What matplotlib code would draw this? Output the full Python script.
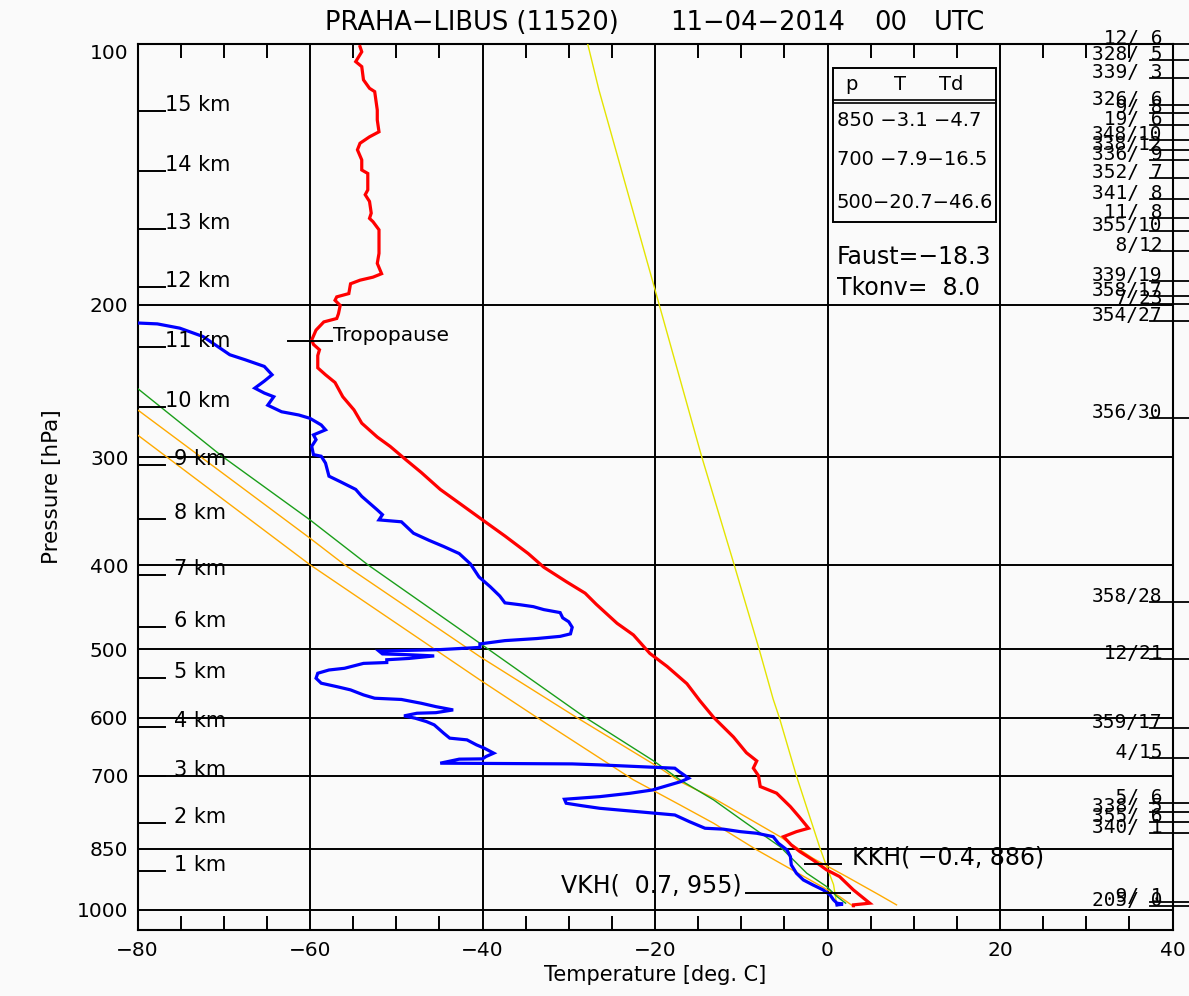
import matplotlib
matplotlib.use("Agg")
import matplotlib.pyplot as plt
from matplotlib.ticker import NullLocator
from matplotlib.lines import Line2D
from matplotlib.patches import Rectangle

# ---------------- data ----------------
station_title = "PRAHA\u2212LIBUS (11520)"
date_text = "11\u221204\u22122014"
hour_text = "00"
utc_text = "UTC"

x_ticks = [-80, -60, -40, -20, 0, 20, 40]
x_ticklabels = ["\u221280", "\u221260", "\u221240", "\u221220", "0", "20", "40"]
p_ticks = [100, 200, 300, 400, 500, 600, 700, 850, 1000]
p_ticklabels = ["100", "200", "300", "400", "500", "600", "700", "850", "1000"]

# temperature profile (hPa, deg C)
temp_p = [100.7, 102.1, 104.8, 106.2, 110.0, 112.5, 113.5, 119.2, 122.4, 126.3,
          128.0, 130.2, 132.5, 136.1, 139.8, 141.1, 147.4, 149.3, 152.0, 156.8,
          159.0, 160.4, 163.9, 174.5, 179.2, 184.2, 185.9, 187.4, 189.2, 194.2,
          195.9, 197.7, 200.4, 204.9, 207.5, 209.4, 214.0, 219.7, 222.3, 225.5,
          229.0, 236.6, 241.0, 246.0, 255.5, 264.6, 274.1, 284.4, 291.6, 302.0,
          312.5, 326.9, 339.0, 354.5, 370.0, 387.7, 402.0, 417.7, 430.8, 443.8,
          466.7, 481.4, 505.6, 523.4, 548.0, 573.4, 599.4, 631.5, 658.5, 673.0,
          686.0, 700.0, 720.4, 733.2, 760.0, 780.5, 804.9, 812.2, 823.1, 841.4,
          856.5, 875.6, 899.2, 915.3, 948.3, 982.4, 986.8, 989.0]
temp_T = [-54.2, -54.0, -54.7, -54.0, -53.8, -53.1, -52.5, -52.2, -52.2, -52.0,
          -53.1, -54.2, -54.5, -54.0, -54.0, -53.3, -53.3, -53.6, -53.1, -52.9,
          -53.1, -52.7, -52.0, -52.0, -52.2, -51.7, -52.7, -54.2, -55.3, -55.5,
          -56.9, -57.1, -56.5, -56.7, -56.9, -58.4, -59.3, -59.8, -59.6, -58.9,
          -59.1, -59.1, -58.2, -57.1, -56.2, -54.9, -54.0, -52.2, -50.7, -48.9,
          -47.1, -44.9, -42.7, -40.0, -37.4, -34.7, -32.9, -30.3, -28.1, -26.8,
          -24.4, -22.5, -20.6, -18.6, -16.3, -14.8, -13.2, -10.9, -9.4, -8.2,
          -8.6, -8.0, -7.8, -5.9, -4.3, -3.3, -2.2, -3.6, -5.1, -4.2,
          -3.2, -1.7, -0.1, 1.4, 3.0, 4.9, 3.0, 3.0]

# dew point profile (hPa, deg C)
dew_p = [209.0, 210.0, 210.5, 212.9, 217.7, 223.6, 228.5, 231.6, 235.7, 241.0,
         245.1, 249.7, 253.0, 255.5, 261.3, 265.9, 268.2, 270.6, 275.4, 279.0,
         282.8, 286.4, 291.5, 298.0, 299.3, 304.8, 315.6, 320.2, 326.9, 333.0,
         345.2, 349.6, 354.5, 356.3, 367.3, 374.3, 380.5, 387.7, 398.5, 412.6,
         423.5, 434.0, 442.0, 444.3, 446.5, 450.0, 453.6, 460.0, 464.8, 471.7,
         480.0, 483.2, 486.0, 488.7, 493.0, 497.6, 500.5, 502.5, 506.3, 507.4,
         509.0, 512.4, 514.2, 518.0, 519.2, 526.0, 528.4, 533.0, 540.1, 547.3,
         552.3, 557.1, 564.6, 569.6, 571.5, 577.3, 582.5, 587.6, 591.9, 592.8,
         597.0, 600.7, 606.1, 611.4, 625.1, 633.4, 636.3, 644.8, 650.5, 659.2,
         665.2, 669.3, 669.8, 677.0, 678.3, 680.1, 683.2, 686.1, 692.3, 704.6,
         711.0, 727.0, 733.4, 740.0, 745.2, 753.1, 758.0, 763.3, 770.2, 777.0,
         791.0, 804.9, 806.8, 812.2, 815.7, 823.1, 837.6, 852.6, 867.9, 887.3,
         907.2, 923.5, 935.7, 948.3, 961.1, 973.8, 982.4, 985.0, 987.0]
dew_T = [-82.0, -80.0, -77.7, -75.1, -72.4, -70.7, -69.3, -67.5, -65.3, -64.4,
         -65.3, -66.4, -65.3, -64.2, -64.9, -63.3, -61.3, -60.0, -58.7, -58.2,
         -59.6, -59.3, -59.8, -59.6, -58.7, -58.2, -57.8, -56.5, -54.7, -54.0,
         -52.2, -51.6, -52.0, -49.4, -48.0, -46.2, -44.5, -42.7, -41.4, -40.4,
         -39.1, -38.0, -37.4, -35.6, -34.1, -32.9, -31.0, -30.7, -30.0, -29.6,
         -29.8, -31.0, -33.7, -37.4, -40.3, -40.3, -44.9, -52.0, -51.6, -48.5,
         -45.6, -48.5, -51.1, -51.1, -53.8, -56.0, -57.8, -59.1, -59.3, -58.7,
         -56.9, -55.3, -53.8, -52.5, -49.4, -47.1, -45.4, -43.4, -45.4, -47.6,
         -49.1, -47.8, -46.5, -45.6, -44.5, -43.8, -41.8, -40.7, -39.8, -38.7,
         -39.6, -40.0, -42.7, -44.9, -29.6, -26.4, -22.0, -17.7, -17.2, -16.1,
         -17.0, -20.3, -22.9, -26.4, -30.5, -30.3, -28.5, -26.4, -22.0, -17.7,
         -16.0, -14.2, -12.1, -10.1, -8.2, -6.3, -5.7, -4.7, -4.3, -4.2,
         -3.6, -2.8, -1.7, -0.5, 0.3, 0.7, 1.1, 1.8, 1.1]

# green curve
green_p = [249.9, 299.3, 354.5, 399.4, 490.6, 597.6, 672.5, 707.7, 746.5, 794.3,
           845.3, 907.2, 940.0, 965.2, 982.4]
green_T = [-80.0, -70.2, -60.0, -53.3, -40.5, -28.3, -20.2, -17.1, -13.2, -9.4,
           -5.5, -2.4, -0.1, 1.1, 2.1]

# orange curves
orange1_p = [264.5, 372.2, 399.4, 510.0, 599.4, 686.1, 711.0, 743.2, 823.1, 871.7,
             915.3, 961.1, 986.8]
orange1_T = [-80.0, -60.0, -56.0, -40.3, -29.1, -19.4, -17.1, -13.2, -5.5, -1.7,
             2.2, 6.0, 8.0]
orange2_p = [282.8, 399.4, 542.5, 599.4, 707.7, 756.5, 794.3, 852.6, 927.5, 965.2, 990.7]
orange2_T = [-80.0, -60.0, -40.3, -33.7, -22.5, -17.1, -13.2, -8.2, -1.7, 1.4, 3.0]

# yellow curve
yellow_p = [100.0, 113.0, 190.6, 299.3, 394.0, 501.0, 571.0, 599.0, 700.4, 847.0,
            891.0, 935.0, 990.0]
yellow_T = [-27.8, -26.5, -20.1, -14.6, -11.0, -7.9, -6.3, -5.6, -3.6, -0.9,
            -0.1, 0.7, 1.1]

# height marks
km_heights = [1, 2, 3, 4, 5, 6, 7, 8, 9, 10, 11, 12, 13, 14, 15]
km_pressures = [901.6, 794.0, 700.5, 615.2, 539.1, 471.7, 410.5, 353.6, 306.3,
                262.8, 223.6, 190.7, 163.4, 140.2, 119.4]

# wind labels
wind_p = [100.0, 104.3, 109.5, 117.6, 120.2, 124.0, 129.1, 132.5, 136.1, 142.8,
          151.0, 158.8, 164.4, 173.4, 187.8, 195.4, 199.6, 208.8, 270.3, 440.6,
          513.5, 616.9, 668.0, 752.2, 770.5, 791.3, 815.0, 979.0, 989.5]
wind_dir = [12, 328, 339, 326, 9, 19, 348, 338, 336, 352,
            341, 11, 355, 8, 339, 358, 7, 354, 356, 358,
            12, 359, 4, 5, 338, 355, 340, 9, 205]
wind_spd = [6, 5, 3, 6, 8, 6, 10, 12, 9, 7,
            8, 8, 10, 12, 19, 17, 23, 27, 30, 28,
            21, 17, 15, 6, 5, 6, 1, 1, 0]

# table
tbl_p = [850, 700, 500]
tbl_T = [-3.1, -7.9, -20.7]
tbl_Td = [-4.7, -16.5, -46.6]
faust = -18.3
tkonv = 8.0

# special levels
trop_p, trop_T = 220.3, -59.9
kkh_T, kkh_p = -0.4, 886
vkh_T, vkh_p = 0.7, 955

# ---------------- figure ----------------
W, H = 1189, 996
BG = "#fafafa"
fig = plt.figure(figsize=(W / 100, H / 100), dpi=100, facecolor=BG)
L, R, TOP, BOT = 137.5, 1172.5, 44.0, 930.0
ax = fig.add_axes([L / W, 1 - BOT / H, (R - L) / W, (BOT - TOP) / H])
ax.set_facecolor(BG)
ax.set_yscale("log")
ax.set_xlim(-80, 40)
ax.set_ylim(1055, 100)


def fx(x):
    return x / W


def fy(y):
    return 1 - y / H


def axx(x):
    return (x - L) / (R - L)


for s in ax.spines.values():
    s.set_linewidth(1.5)
    s.set_color("black")

ax.set_xticks(x_ticks)
ax.set_xticklabels(x_ticklabels)
ax.set_xticks([v for v in range(-75, 40, 5) if v % 20 != 0], minor=True)
ax.yaxis.set_minor_locator(NullLocator())
ax.set_yticks(p_ticks)
ax.set_yticklabels(p_ticklabels)
ax.tick_params(axis="both", which="major", length=0, labelsize=14.5, colors="black")
ax.tick_params(axis="x", which="major", pad=8)
ax.tick_params(axis="y", which="major", pad=6.5)
ax.tick_params(axis="x", which="minor", direction="in", top=True, bottom=True,
               length=10, width=1.4, color="black")
ax.grid(True, which="major", color="black", lw=1.4)
ax.set_axisbelow(True)
for lab in ax.get_yticklabels():
    if lab.get_text() == "100":
        lab.set_verticalalignment("top")

ax.set_xlabel("Temperature [deg. C]", fontsize=15)
ax.xaxis.set_label_coords(0.5, (BOT - 975) / (BOT - TOP))
ax.xaxis.label.set_verticalalignment("center")
ax.set_ylabel("Pressure [hPa]", fontsize=15.5)
ax.yaxis.set_label_coords(axx(52), 0.5)
ax.yaxis.label.set_verticalalignment("center")
ax.yaxis.label.set_horizontalalignment("center")

# curves
ax.plot(yellow_T, yellow_p, color="#e4e400", lw=1.0, zorder=3)
ax.plot(orange2_T, orange2_p, color="#ffaa00", lw=1.0, zorder=3)
ax.plot(orange1_T, orange1_p, color="#ffaa00", lw=1.0, zorder=3)
ax.plot(green_T, green_p, color="#1a9e1a", lw=1.0, zorder=3)
ax.plot(dew_T, dew_p, color="#0000ff", lw=2.3, zorder=4, solid_joinstyle="miter")
ax.plot(temp_T, temp_p, color="#ff0000", lw=2.3, zorder=5, solid_joinstyle="miter")

ytr = ax.get_yaxis_transform()

# height markers
for h, p in zip(km_heights, km_pressures):
    ax.plot([0, axx(165)], [p, p], transform=ytr, color="black", lw=1.4,
            clip_on=False, zorder=6)
    xl = axx(165) if h >= 10 else axx(174)
    ax.text(xl, p, f"{h} km", transform=ytr, ha="left", va="baseline",
            fontsize=15, zorder=6)

# wind labels
for p, d, sp in zip(wind_p, wind_dir, wind_spd):
    ax.plot([axx(1150), axx(1192)], [p, p], transform=ytr, color="black", lw=1.3,
            clip_on=False, zorder=6)
    ax.text(axx(1162), p, f"{d:3d}/{sp:2d}", transform=ytr, ha="right",
            va="baseline", fontsize=14, family="DejaVu Sans Mono", clip_on=False,
            zorder=6)

# tropopause
ax.plot([trop_T - 2.6, trop_T + 2.4], [trop_p, trop_p], color="black", lw=1.4, zorder=6)
ax.text(trop_T + 2.6, trop_p, "Tropopause", ha="left", va="baseline",
        fontsize=14.5, zorder=6)

# KKH / VKH
ax.plot([kkh_T - 2.2, kkh_T + 2.0], [kkh_p, kkh_p], color="black", lw=1.4, zorder=6)
ax.text(kkh_T + 3.2, kkh_p, f"KKH( {kkh_T:.1f}, {kkh_p})".replace("-", "\u2212"),
        ha="left", va="baseline", fontsize=17, zorder=6)
ax.plot([vkh_T - 10.2, vkh_T + 1.9], [vkh_p, vkh_p], color="black", lw=1.4, zorder=6)
ax.text(vkh_T - 10.6, vkh_p, f"VKH( {vkh_T:4.1f}, {vkh_p})".replace("-", "\u2212"),
        ha="right", va="baseline", fontsize=17, zorder=6)

# title
fig.text(fx(325), fy(23), station_title, ha="left", va="center", fontsize=18.5)
fig.text(fx(670), fy(23), date_text, ha="left", va="center", fontsize=18.5)
fig.text(fx(874), fy(23), hour_text, ha="left", va="center", fontsize=18.5)
fig.text(fx(934), fy(23), utc_text, ha="left", va="center", fontsize=18.5)

# table box
fig.add_artist(Rectangle((fx(833), fy(222)), (996 - 833) / W, (222 - 68) / H,
                         transform=fig.transFigure, fill=False, lw=1.4, ec="black"))
for yy in (100, 103.5):
    fig.add_artist(Line2D([fx(833), fx(996)], [fy(yy), fy(yy)],
                          transform=fig.transFigure, lw=1.2, color="black"))
fig.text(fx(851), fy(84), "p", ha="center", va="center", fontsize=14)
fig.text(fx(900.5), fy(84), "T", ha="center", va="center", fontsize=14)
fig.text(fx(951), fy(84), "Td", ha="center", va="center", fontsize=14)
for yy, p, t, td in zip([121, 159.5, 202.5], tbl_p, tbl_T, tbl_Td):
    row = f"{p:3d}{t:5.1f}{td:5.1f}".replace("-", "\u2212")
    fig.text(fx(836.7), fy(yy), row, ha="left", va="center", fontsize=14)
fig.text(fx(836.7), fy(257.5), f"Faust={faust:5.1f}".replace("-", "\u2212"),
         ha="left", va="center", fontsize=17)
fig.text(fx(836.7), fy(287.5), f"Tkonv={tkonv:5.1f}", ha="left", va="center",
         fontsize=17)

fig.savefig("out.png", dpi=100, facecolor=BG)
